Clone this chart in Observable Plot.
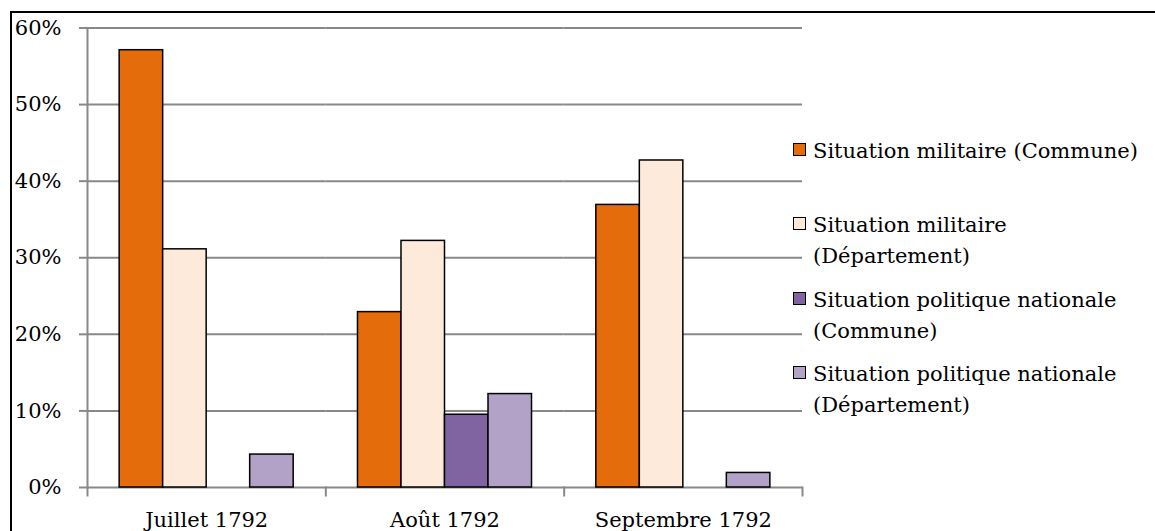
<!DOCTYPE html>
<html>
<head>
<meta charset="utf-8">
<script src="https://cdn.jsdelivr.net/npm/d3@7"></script>
<script src="https://cdn.jsdelivr.net/npm/@observablehq/plot@0.6"></script>
<style>
  html, body { margin: 0; padding: 0; background: #fff; width: 1155px; height: 531px; overflow: hidden; }
  #frame { position: absolute; left: 10px; top: 11px; width: 1300px; height: 700px; border: 2px solid #000; box-sizing: border-box; }
  #chart { position: absolute; left: 0; top: 0; }
  #chart svg { display: block; }
  .leg { position: absolute; left: 793px; font-family: 'DejaVu Serif'; font-size: 21px; line-height: 31px; color: #000; white-space: nowrap; }
  .leg .sw { position: absolute; left: 0; top: 7px; width: 11px; height: 11px; border: 1.5px solid #000; }
  .leg .tx { position: absolute; left: 20px; top: 0; }
</style>
</head>
<body>
<div id="frame"></div>
<div id="chart"></div>
<div id="legend"></div>
<script>
// ---- data ----
const months = ["Juillet 1792", "Août 1792", "Septembre 1792"];
const series = [
  "Situation militaire (Commune)",
  "Situation militaire (Département)",
  "Situation politique nationale (Commune)",
  "Situation politique nationale (Département)"
];
const legendLines = [
  ["Situation militaire (Commune)"],
  ["Situation militaire", "(Département)"],
  ["Situation politique nationale", "(Commune)"],
  ["Situation politique nationale", "(Département)"]
];
const militaireCommune = [0.571, 0.229, 0.369];
const militaireDepartement = [0.311, 0.322, 0.427];
const politiqueCommune = [null, 0.095, null];
const politiqueDepartement = [0.043, 0.122, 0.019];
const colors = ["#E46C0A", "#FDEADA", "#8064A2", "#B3A2C7"];
const yTicks = [0, 0.1, 0.2, 0.3, 0.4, 0.5, 0.6];

const seriesValues = [militaireCommune, militaireDepartement, politiqueCommune, politiqueDepartement];
const data = [];
months.forEach((m, i) => series.forEach((s, k) => {
  const v = seriesValues[k][i];
  if (v != null) data.push({month: m, series: s, value: v});
}));

// ---- layout ----
const W = 1155, H = 531;
const mT = 27.5, mB = 44, mL = 87, mR = 353;
const plotH = H - mT - mB;
const grey = "#888888";
const font = "DejaVu Serif";
const fs = 21;

const chart = Plot.plot({
  width: W, height: H,
  marginTop: mT, marginBottom: mB, marginLeft: mL, marginRight: mR,
  style: {fontFamily: font, fontSize: fs + "px", color: "#000", background: "transparent", overflow: "visible"},
  fx: {domain: months, padding: 0, round: false, label: null},
  x: {domain: series, paddingInner: 0, paddingOuter: 0.739, round: false, axis: null},
  y: {domain: [0, 0.6], label: null},
  color: {domain: series, range: colors},
  marks: [
    Plot.gridY(yTicks, {stroke: grey, strokeOpacity: 1, strokeWidth: 2}),
    Plot.axisY(yTicks, {tickSize: 8, tickPadding: 18, stroke: grey, strokeWidth: 2, fill: "#000",
      tickFormat: d => Math.round(d * 100) + "%", label: null, fontSize: fs, fontFamily: font}),
    Plot.axisFx({anchor: "bottom", tickSize: 0, tickPadding: 25, label: null, fill: "#000", fontSize: fs, fontFamily: font}),
    Plot.frame({anchor: "left", facetAnchor: "left", stroke: grey, strokeWidth: 2}),
    Plot.frame({anchor: "left", insetTop: plotH, insetBottom: -8, stroke: grey, strokeWidth: 2}),
    Plot.frame({anchor: "right", facetAnchor: "right", insetTop: plotH, insetBottom: -8, stroke: grey, strokeWidth: 2}),
    Plot.barY(data, {fx: "month", x: "series", y: "value", fill: "series", stroke: "#000", strokeWidth: 1.5})
  ]
});
document.getElementById("chart").appendChild(chart);

// ---- legend ----
const legend = document.getElementById("legend");
const baseTop = 136, step = 74.3;
series.forEach((s, k) => {
  const e = document.createElement("div");
  e.className = "leg";
  e.style.top = (baseTop + step * k) + "px";
  const sw = document.createElement("div");
  sw.className = "sw";
  sw.style.background = colors[k];
  const tx = document.createElement("div");
  tx.className = "tx";
  tx.innerHTML = legendLines[k].join("<br>");
  e.appendChild(sw);
  e.appendChild(tx);
  legend.appendChild(e);
});
</script>
</body>
</html>
